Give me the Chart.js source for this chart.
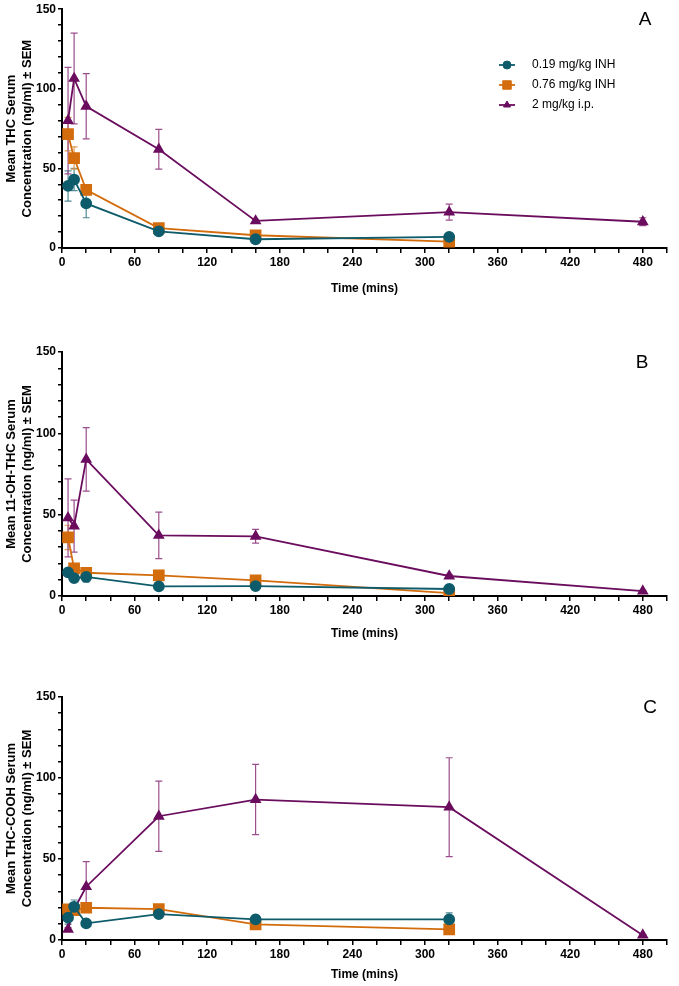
<!DOCTYPE html>
<html>
<head>
<meta charset="utf-8">
<script src="https://cdn.jsdelivr.net/npm/chart.js@4"></script>
<style>
    html, body { margin: 0; padding: 0; background: #fff; }
    .panel { position: absolute; left: 0; width: 679px; }
</style>
</head>
<body>
<div class="panel" style="top:0;height:300px"><canvas id="chartA"></canvas></div>
<div class="panel" style="top:300px;height:345px"><canvas id="chartB"></canvas></div>
<div class="panel" style="top:645px;height:341px"><canvas id="chartC"></canvas></div>
<script>
/* Serum concentrations after THC exposure - three panels with SEM error bars */

const times = [5, 10, 20, 80, 160, 320, 480];
const seriesNames = ['0.19 mg/kg INH', '0.76 mg/kg INH', '2 mg/kg i.p.'];
const xTickLabels = [0, 60, 120, 180, 240, 300, 360, 420, 480];
const yTickLabels = [0, 50, 100, 150];

// A - THC
const thcLow = [39, 43, 28, 10.5, 5.5, 7];
const thcLowErr = [9.5, 7, 9, 1, 1, 2];
const thcHigh = [71.5, 56.5, 36.5, 12.5, 8, 4];
const thcHighErr = [10.5, 7, 3, 1.5, 1.5, 1];
const thcIp = [80, 106.5, 89, 62, 17, 22.5, 16.5];
const thcIpErr = [33.5, 28.5, 20.5, 12.5, 1, 5, 2.5];

// B - 11-OH-THC
const ohLow = [14.5, 11, 11.7, 5.9, 6.1, 4.3];
const ohLowErr = [1, 1, 3, 1, 1, 1];
const ohHigh = [36, 17, 14.3, 12.7, 9.6, 1.8];
const ohHighErr = [7.5, 1.5, 1.5, 2, 1.5, 0.5];
const ohIp = [48, 43, 84, 37.3, 36.7, 12.3, 3];
const ohIpErr = [24, 16, 19.5, 14.3, 4.2, 1, 0.5];

// C - THC-COOH
const coohLow = [13.8, 20.5, 10.3, 16, 12.7, 12.7];
const coohLowErr = [4, 4.2, 1, 1.5, 2.5, 4];
const coohHigh = [18.9, 18.5, 19.9, 19.1, 9.7, 6.6];
const coohHighErr = [1.5, 2, 1.5, 1.5, 1.5, 1];
const coohIp = [6.6, 19, 32.9, 76.4, 86.7, 82, 3];
const coohIpErr = [1, 2, 15.5, 21.7, 21.7, 30.5, 0.5];

const TEAL = '#0e5c6b', ORANGE = '#d36c0c', PURPLE = '#6b0d5e';
const FONT = "'Liberation Sans', Arial, sans-serif";

// error bars drawn under the markers
const errorBars = {
    id: 'errorBars',
    beforeDatasetsDraw(chart) {
        const { ctx, scales: { x, y } } = chart;
        ctx.save();
        chart.data.datasets.forEach(ds => {
            if (!ds.errors) return;
            ctx.strokeStyle = ds.errorColor;
            ctx.lineWidth = 1.2;
            ds.data.forEach((p, i) => {
                const e = ds.errors[i];
                const px = x.getPixelForValue(p.x);
                const top = y.getPixelForValue(p.y + e);
                const bot = y.getPixelForValue(Math.max(p.y - e, 0));
                ctx.beginPath();
                ctx.moveTo(px, top); ctx.lineTo(px, bot);
                ctx.moveTo(px - 3.5, top); ctx.lineTo(px + 3.5, top);
                ctx.moveTo(px - 3.5, bot); ctx.lineTo(px + 3.5, bot);
                ctx.stroke();
            });
        });
        ctx.restore();
    }
};

// panel letter and (optional) legend
const annotations = {
    id: 'annotations',
    afterDraw(chart, args, opts) {
        const { ctx } = chart;
        ctx.save();
        ctx.fillStyle = '#000';
        ctx.font = '19px ' + FONT;
        ctx.textAlign = 'center';
        ctx.textBaseline = 'middle';
        ctx.fillText(opts.letter, opts.letterX, opts.letterY);
        if (opts.legend) {
            chart.data.datasets.forEach((ds, i) => {
                const ly = opts.legendY + i * 20;
                ctx.strokeStyle = ds.borderColor;
                ctx.fillStyle = ds.borderColor;
                ctx.lineWidth = 1.8;
                ctx.beginPath();
                ctx.moveTo(opts.legendX - 8, ly); ctx.lineTo(opts.legendX + 8, ly);
                ctx.stroke();
                ctx.lineWidth = 1;
                Chart.helpers.drawPoint(ctx, {
                    pointStyle: ds.pointStyle, radius: ds.pointRadius - 1, borderWidth: 1
                }, opts.legendX, ly);
                ctx.fillStyle = '#000';
                ctx.font = '12px ' + FONT;
                ctx.textAlign = 'left';
                ctx.fillText(ds.label, opts.legendX + 25, ly);
            });
        }
        ctx.restore();
    }
};

function series(label, values, errs, color, errColor, style, radius) {
    return {
        label,
        data: values.map((v, i) => ({ x: times[i], y: v })),
        errors: errs,
        errorColor: errColor,
        borderColor: color,
        backgroundColor: color,
        pointBackgroundColor: color,
        pointBorderColor: color,
        pointStyle: style,
        pointRadius: radius,
        borderWidth: 1.8,
        tension: 0
    };
}

function makeChart(id, sets, yTitle, cfg) {
    new Chart(document.getElementById(id), {
        type: 'line',
        data: {
            datasets: [
                series(seriesNames[0], sets[0], sets[1], TEAL, '#4f8a95', 'circle', 5),
                series(seriesNames[1], sets[2], sets[3], ORANGE, '#e09a55', 'rect', 7),
                series(seriesNames[2], sets[4], sets[5], PURPLE, '#9b4e8d', 'triangle', 5)
            ]
        },
        options: {
            responsive: true,
            maintainAspectRatio: false,
            animation: false,
            layout: { padding: { top: cfg.top, right: 12, left: 0, bottom: 0 } },
            plugins: {
                legend: { display: false },
                tooltip: { enabled: false },
                annotations: cfg.ann
            },
            scales: {
                x: {
                    type: 'linear', min: 0, max: 500,
                    border: { color: '#000', width: 2 },
                    grid: { drawOnChartArea: false, color: '#000', lineWidth: 1.5, tickLength: 5 },
                    ticks: {
                        stepSize: 20, autoSkip: false, maxRotation: 0, padding: 2,
                        color: '#000', font: { family: FONT, size: 12, weight: 'bold' },
                        callback: v => xTickLabels.includes(v) ? String(v) : ''
                    },
                    title: {
                        display: true, text: 'Time (mins)', color: '#000', padding: { top: 1 },
                        font: { family: FONT, size: 12, weight: 'bold' }
                    },
                    afterFit: s => { s.height = cfg.xh; }
                },
                y: {
                    min: 0, max: 150,
                    border: { color: '#000', width: 2 },
                    grid: { drawOnChartArea: false, color: '#000', lineWidth: 1.5, tickLength: 4 },
                    ticks: {
                        stepSize: 10, autoSkip: false, padding: 2,
                        color: '#000', font: { family: FONT, size: 12, weight: 'bold' },
                        callback: v => yTickLabels.includes(v) ? String(v) : ''
                    },
                    title: {
                        display: true, text: yTitle, color: '#000', padding: { top: 4, bottom: 0 },
                        font: { family: FONT, size: 13, weight: 'bold', lineHeight: 1.2 }
                    },
                    afterFit: s => { s.width = 62; }
                }
            }
        },
        plugins: [errorBars, annotations]
    });
}

makeChart('chartA',
    [thcLow, thcLowErr, thcHigh, thcHighErr, thcIp, thcIpErr],
    ['Mean THC Serum', 'Concentration (ng/ml) ± SEM'],
    { top: 7, xh: 52, ann: { letter: 'A', letterX: 645, letterY: 20, legend: true, legendX: 507, legendY: 65 } });

makeChart('chartB',
    [ohLow, ohLowErr, ohHigh, ohHighErr, ohIp, ohIpErr],
    ['Mean 11-OH-THC Serum', 'Concentration (ng/ml) ± SEM'],
    { top: 52, xh: 49, ann: { letter: 'B', letterX: 642, letterY: 63, legend: false } });

makeChart('chartC',
    [coohLow, coohLowErr, coohHigh, coohHighErr, coohIp, coohIpErr],
    ['Mean THC-COOH Serum', 'Concentration (ng/ml) ± SEM'],
    { top: 52, xh: 46, ann: { letter: 'C', letterX: 650, letterY: 63, legend: false } });
</script>
</body>
</html>
